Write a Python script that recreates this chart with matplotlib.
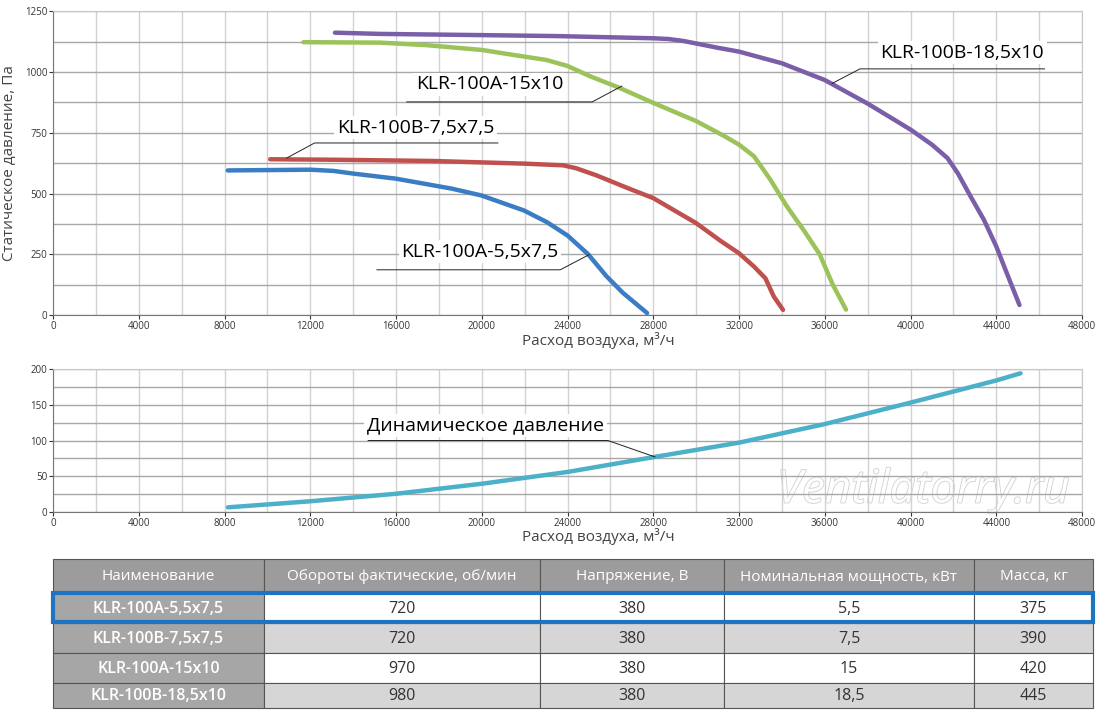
import matplotlib.pyplot as plt
from matplotlib.patches import Rectangle
import matplotlib.patheffects as pe

plt.rcParams['font.family'] = ['Open Sans', 'DejaVu Sans']

# static pressure curves (x: m3/h, y: Pa)
a55_x = [8150, 12010, 13080, 14000, 16000, 18600, 19980, 21970, 23040, 24000, 24960,
         25810, 26570, 27710]
a55_y = [595, 598, 593, 582, 561, 520, 492, 430, 382, 327, 250, 160, 92, 8]
b75_x = [10130, 13080, 17680, 21970, 23800, 24400, 25340, 26870, 28000, 30000, 31170,
         32000, 32700, 33230, 33620, 34050]
b75_y = [641, 639, 634, 623, 616, 604, 575, 520, 481, 378, 303, 254, 199, 151, 76, 21]
a15_x = [11680, 15260, 17370, 20000, 21650, 23000, 24000, 25040, 26420, 28000, 30000,
         31320, 32000, 32700, 33460, 34230, 35000, 35760, 36370, 36990]
a15_y = [1123, 1121, 1111, 1091, 1068, 1050, 1025, 983, 935, 873, 798, 736, 701, 653, 557,
         447, 351, 250, 125, 22]
b185_x = [13150, 15260, 20000, 23510, 28000, 28700, 29400, 30200, 31000, 32000, 34000,
          36000, 38000, 40000, 41000, 41720, 42200, 42800, 43420, 44000, 44490, 45080]
b185_y = [1162, 1157, 1152, 1148, 1139, 1136, 1128, 1114, 1100, 1084, 1036, 967, 870,
          763, 701, 646, 584, 488, 392, 282, 172, 41]

# dynamic pressure
dyn_x = [8160, 12000, 16000, 20000, 24000, 28000, 32000, 36000, 40000, 44000, 45130]
dyn_y = [6.5, 15, 25.5, 39.5, 56, 76.7, 97, 123, 153, 184, 194]

names = ['KLR-100A-5,5x7,5', 'KLR-100B-7,5x7,5', 'KLR-100A-15x10', 'KLR-100B-18,5x10']
rpm = ['720', '720', '970', '980']
volt = ['380', '380', '380', '380']
power = ['5,5', '7,5', '15', '18,5']
mass = ['375', '390', '420', '445']
headers = ['Наименование', 'Обороты фактические, об/мин', 'Напряжение, В',
           'Номинальная мощность, кВт', 'Масса, кг']
col_edges = [53, 264, 540, 724, 974, 1093]

fig = plt.figure(figsize=(11, 7.11), dpi=100)

def style_axes(ax, ymax, ystep, yminor):
    ax.set_xlim(0, 48000)
    ax.set_ylim(0, ymax)
    ax.set_xticks(range(0, 48001, 4000))
    ax.set_xticks(range(0, 48001, 2000), minor=True)
    ax.set_yticks(range(0, ymax + 1, ystep))
    ax.set_yticks(range(0, ymax + 1, yminor), minor=True)
    ax.grid(True, axis='x', which='both', color='#d2d2d2', lw=1.0)
    ax.grid(True, axis='y', which='both', color='#a8a8a8', lw=1.0)
    ax.set_axisbelow(True)
    ax.tick_params(labelsize=7, colors='#333333', length=3, width=0.8, pad=1)
    ax.tick_params(which='minor', length=0)
    for s in ['top', 'right']:
        ax.spines[s].set_color('#c8c8c8')
    for s in ['left', 'bottom']:
        ax.spines[s].set_color('#777777')
    ax.set_xlabel('Расход воздуха, м³/ч', fontsize=11, color='#444444', labelpad=0)
    ax.xaxis.set_label_coords(0.53, -0.055 if ymax > 500 else -0.11)

ax1 = fig.add_axes([0.0482, 0.5570, 0.9355, 0.4271])
style_axes(ax1, 1250, 250, 125)
ax1.set_ylabel('Статическое давление, Па', fontsize=11, color='#444444', labelpad=6)

lw = 3.2
ax1.plot(a55_x, a55_y, color='#3b7dc4', lw=lw, solid_capstyle='round')
ax1.plot(b75_x, b75_y, color='#c0504d', lw=lw, solid_capstyle='round')
ax1.plot(a15_x, a15_y, color='#9bc35a', lw=lw, solid_capstyle='round')
ax1.plot(b185_x, b185_y, color='#7a5ea8', lw=lw, solid_capstyle='round')

bbox = dict(facecolor='white', edgecolor='none', pad=2)
lab = dict(fontsize=14, ha='center', va='center', bbox=bbox)
# labels with leader lines
ax1.text(42410, 1080, names[3], **lab)
ax1.plot([46250, 37640, 36340], [1013, 1013, 953], color='#222222', lw=0.7)
ax1.text(20370, 949, names[2], **lab)
ax1.plot([16500, 25150, 26530], [877, 877, 942], color='#222222', lw=0.7)
ax1.text(16900, 771, names[1], **lab)
ax1.plot([20750, 12200, 10900], [708, 708, 646], color='#222222', lw=0.7)
ax1.text(19920, 261, names[0], **lab)
ax1.plot([15110, 23660, 25000], [186, 186, 248], color='#222222', lw=0.7)

ax2 = fig.add_axes([0.0482, 0.2799, 0.9355, 0.2011])
style_axes(ax2, 200, 50, 25)
ax2.plot(dyn_x, dyn_y, color='#4bb0c8', lw=lw, solid_capstyle='round')
ax2.text(20180, 121, 'Динамическое давление', **lab)
ax2.plot([14700, 25880, 28080], [100, 100, 77], color='#222222', lw=0.7)
ax2.text(40600, 30, 'Ventilatorry.ru', fontsize=33, style='italic', color='white',
         ha='center', va='center', zorder=0,
         path_effects=[pe.withStroke(linewidth=1.2, foreground='#d0d0d0')])

# table
axt = fig.add_axes([0, 0, 1, 1], facecolor='none')
axt.set_xlim(0, 1100)
axt.set_ylim(711, 0)
axt.axis('off')
row_edges = [559, 593, 623, 653, 683, 708]
rows = list(zip(names, rpm, volt, power, mass))
for j in range(5):
    x0, x1 = col_edges[j], col_edges[j + 1]
    axt.add_patch(Rectangle((x0, row_edges[0]), x1 - x0, row_edges[1] - row_edges[0],
                            facecolor='#9c9c9c', edgecolor='#555555', lw=0.8))
    axt.text((x0 + x1) / 2, (row_edges[0] + row_edges[1]) / 2 + 1, headers[j], color='white',
             fontsize=11, ha='center', va='center')
for i, row in enumerate(rows):
    y0, y1 = row_edges[i + 1], row_edges[i + 2]
    for j in range(5):
        x0, x1 = col_edges[j], col_edges[j + 1]
        if j == 0:
            fc, tc = '#a6a6a6', 'white'
        else:
            fc, tc = ('white' if i % 2 == 0 else '#d6d6d6'), '#333333'
        axt.add_patch(Rectangle((x0, y0), x1 - x0, y1 - y0, facecolor=fc,
                                edgecolor='#555555', lw=0.8))
        axt.text((x0 + x1) / 2, (y0 + y1) / 2 + 1, row[j], color=tc, fontsize=11.5,
                 ha='center', va='center', fontweight='semibold' if j == 0 else 'normal')
axt.add_patch(Rectangle((53, 593), 1040, 29, facecolor='none', edgecolor='#1f74c2', lw=3))

fig.savefig('out.png', dpi=100)
